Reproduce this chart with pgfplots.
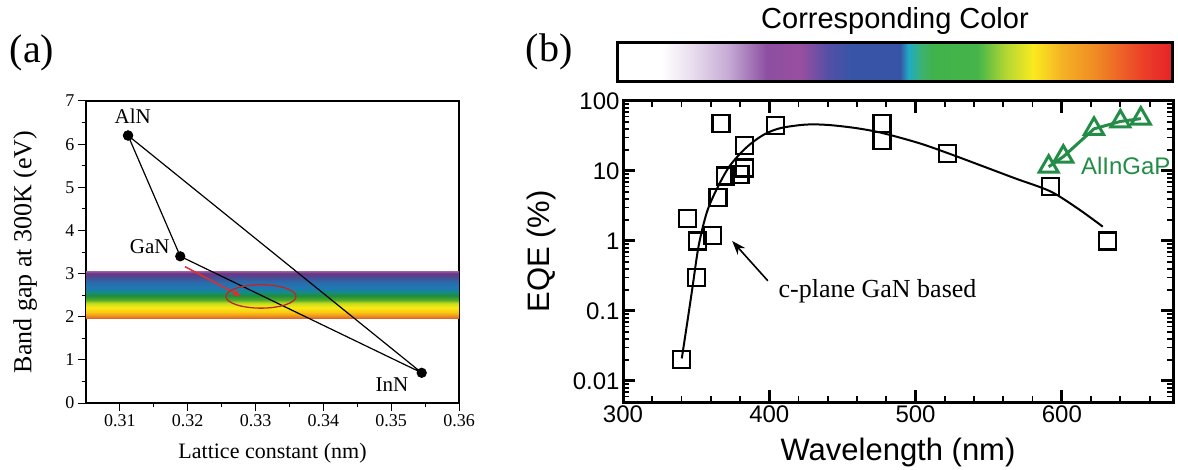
\documentclass[border=0pt]{standalone}
\usepackage{fontspec}
\setmainfont{Liberation Serif}
\newfontfamily\hv{Liberation Sans}
\usepackage{pgfplots}
\pgfplotsset{compat=1.18}
\usetikzlibrary{arrows.meta}

\definecolor{aigp}{RGB}{35,140,70}
\definecolor{redmark}{RGB}{225,45,45}
\newcommand\fs[1]{\fontsize{#1}{#1}\selectfont}

% visible band, bottom (2 eV) to top (3 eV)
\pgfdeclareverticalshading{visband}{100bp}{
 rgb(0bp)=(0.86,0.35,0.16); rgb(25bp)=(0.86,0.35,0.16);
 rgb(28.5bp)=(0.94,0.59,0.12);
 rgb(32bp)=(0.98,0.78,0.08);
 rgb(37bp)=(0.98,0.92,0.08);
 rgb(41.5bp)=(0.78,0.86,0.12);
 rgb(45bp)=(0.31,0.67,0.16);
 rgb(49.5bp)=(0.12,0.55,0.24);
 rgb(53bp)=(0.08,0.55,0.51);
 rgb(57.5bp)=(0.12,0.47,0.71);
 rgb(63bp)=(0.16,0.43,0.67);
 rgb(68.5bp)=(0.27,0.31,0.59);
 rgb(73bp)=(0.43,0.2,0.51);
 rgb(75bp)=(0.59,0.35,0.63); rgb(100bp)=(0.59,0.35,0.63)}

% colour bar, left to right
\pgfdeclarehorizontalshading{spectrum}{100bp}{
 rgb(0bp)=(1,1,1); rgb(29bp)=(1,1,1);
 rgb(31.5bp)=(0.92,0.88,0.94);
 rgb(35bp)=(0.78,0.67,0.84);
 rgb(38.5bp)=(0.55,0.31,0.63);
 rgb(41.5bp)=(0.6,0.31,0.63);
 rgb(44bp)=(0.33,0.31,0.65);
 rgb(46bp)=(0.22,0.33,0.65);
 rgb(50.5bp)=(0.22,0.33,0.65);
 rgb(51.25bp)=(0.12,0.67,0.78);
 rgb(52.5bp)=(0.24,0.7,0.43);
 rgb(53.5bp)=(0.25,0.7,0.29);
 rgb(57.5bp)=(0.27,0.71,0.29);
 rgb(60bp)=(0.7,0.84,0.2);
 rgb(62.5bp)=(0.98,0.92,0.12);
 rgb(65bp)=(0.96,0.7,0.14);
 rgb(68bp)=(0.94,0.55,0.14);
 rgb(72.5bp)=(0.92,0.24,0.16);
 rgb(75bp)=(0.9,0.14,0.16); rgb(100bp)=(0.9,0.14,0.16)}

\pgfplotsset{/pgf/number format/assume math mode=true}

\begin{document}
\begin{tikzpicture}
\useasboundingbox (0,0) rectangle (1178pt,469pt);

\node[font=\fs{40}] at (32pt,416pt) {(a)};
\node[font=\fs{40}] at (549pt,417pt) {(b)};

% ---------- (a) band gap vs lattice constant
\begin{axis}[
    at={(86pt,66pt)}, anchor=south west, scale only axis,
    width=373pt, height=302pt,
    xmin=0.305, xmax=0.36, ymin=0, ymax=7,
    xtick={0.31,0.32,0.33,0.34,0.35,0.36},
    ytick={0,1,2,3,4,5,6,7},
    minor x tick num=1, minor y tick num=1,
    scaled x ticks=false,
    tick align=outside, tick pos=left,
    major tick length=8pt, minor tick length=4pt,
    axis line style={line width=1.2pt},
    every tick/.style={line width=1pt, black},
    tick label style={font=\fs{18}},
    xticklabel style={/pgf/number format/.cd, fixed, fixed zerofill, precision=2},
    xlabel={Lattice constant (nm)},
    ylabel={Band gap at 300K (eV)},
    xlabel style={font=\fs{22}, at={(axis description cs:0.5,-0.166)}, anchor=center},
    ylabel style={font=\fs{26}, at={(axis description cs:-0.163,0.5)}, anchor=center},
]
\shade[shading=visband] (axis cs:0.305,1.95) rectangle (axis cs:0.36,3.05);
\addplot[black, line width=1.2pt, mark=*, mark size=4.5pt,
         mark options={fill=black}] coordinates {
    (0.3112,6.2) (0.3189,3.4) (0.3545,0.7) (0.3112,6.2)};
\node[font=\fs{21}] at (axis cs:0.3119,6.64) {AlN};
\node[font=\fs{21}] at (axis cs:0.3144,3.62) {GaN};
\node[font=\fs{21}] at (axis cs:0.3501,0.42) {InN};
\draw[redmark, line width=1.5pt, -{Latex[length=8pt,width=7pt]}]
    (axis cs:0.3196,3.16) -- (axis cs:0.3279,2.47);
\draw[redmark!85!black, line width=1.3pt] (axis cs:0.3308,2.47)
    ellipse [x radius=35pt, y radius=11.7pt];
\end{axis}

% ---------- colour bar
\shade[shading=spectrum] (617pt,387pt) rectangle (1172pt,426pt);
\draw[line width=3pt] (617pt,387pt) rectangle (1172pt,426pt);
\node[font=\hv\fs{29}] at (895pt,448pt) {Corresponding Color};

% ---------- (b) EQE vs wavelength
\begin{axis}[
    at={(623pt,67pt)}, anchor=south west, scale only axis,
    width=550pt, height=301pt,
    ymode=log, clip=false,
    xmin=300, xmax=676, ymin=0.005, ymax=100,
    xtick={300,400,500,600},
    minor xtick={320,340,360,380,420,440,460,480,520,540,560,580,620,640,660},
    ytick={0.01,0.1,1,10,100},
    yticklabels={0.01,0.1,1,10,100},
    minor ytick={0.006,0.007,0.008,0.009,0.02,0.03,0.04,0.05,0.06,0.07,0.08,0.09,
                 0.2,0.3,0.4,0.5,0.6,0.7,0.8,0.9,2,3,4,5,6,7,8,9,
                 20,30,40,50,60,70,80,90},
    tick align=inside,
    major tick length=12pt, minor tick length=6pt,
    axis line style={line width=3pt},
    major tick style={line width=3pt, black},
    minor tick style={line width=1.8pt, black},
    tick label style={font=\hv\fs{24}},
    xlabel={Wavelength (nm)},
    ylabel={EQE (\%)},
    xlabel style={font=\hv\fs{31}, at={(axis description cs:0.5,-0.169)}, anchor=center},
    ylabel style={font=\hv\fs{31}, at={(axis description cs:-0.149,0.5)}, anchor=center},
]
% fit through the GaN data
\addplot[black, line width=2pt, smooth, tension=0.5] coordinates {
    (340.2,0.021) (344,0.07) (347.4,0.21) (351.7,0.85) (357.4,2.6)
    (364.6,5.8) (373.2,12) (384.7,22) (396.2,33) (407.7,41)
    (424.9,46) (440,45.5) (459.3,41) (477,35) (502.4,25) (522,18)
    (545.5,11.8) (568.4,7.8) (592.3,5.1) (611.5,2.85) (628,1.6)};
% c-plane GaN based LEDs
\addplot[only marks, mark=square, mark size=8.5pt,
         mark options={line width=2.2pt, black}] coordinates {
    (340,0.02) (344,2.1) (351,1.0) (350,0.3) (361,1.2) (365,4.2)
    (367,48) (370,8.5) (380,9) (383,11) (383,23) (404,45)
    (477,48) (477,27) (522,18) (592,6) (631,1)};
% AlInGaP LEDs
\addplot[aigp, line width=3pt, mark=triangle, mark size=11pt,
         mark options={line width=3pt, aigp}] coordinates {
    (591,11.5) (601,16) (622,40) (640,51) (654,56)};
\node[aigp, anchor=west, font=\hv\fs{24}, inner sep=0pt] at (axis cs:613,11.8) {AlInGaP};
\node[font=\fs{26}] at (axis cs:474,0.19) {c-plane GaN based};
\draw[black, line width=1.6pt, -{Stealth[length=14pt,width=10pt]}]
    (axis cs:399,0.27) -- (axis cs:374.6,1.0);
\end{axis}
\end{tikzpicture}
\end{document}
